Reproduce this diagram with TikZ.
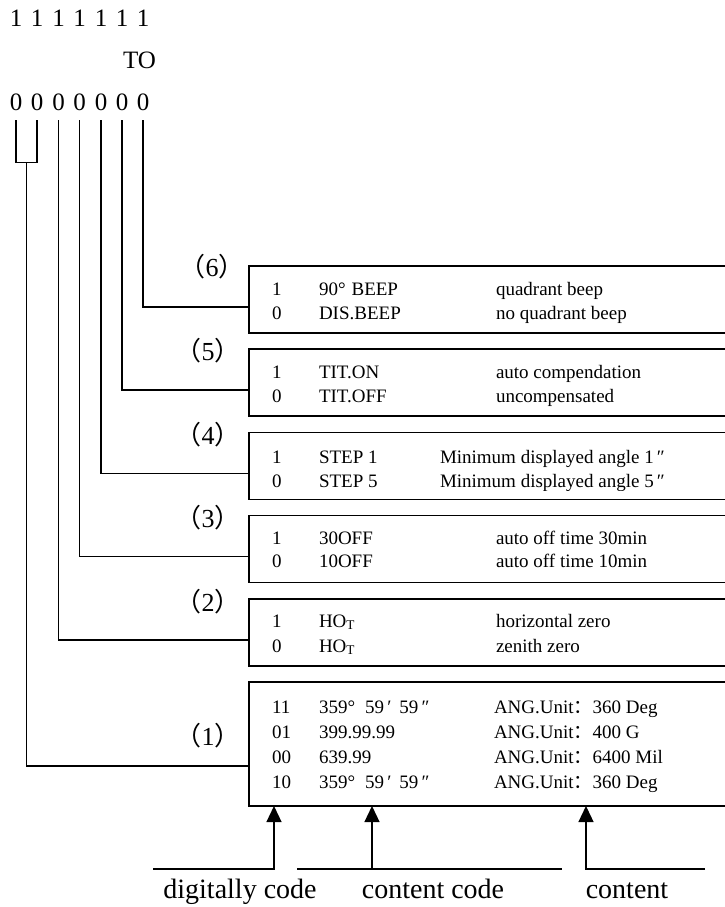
\documentclass[tikz,border=0pt]{standalone}
\usepackage{fontspec}
\setmainfont{Liberation Serif}
\newfontfamily\cjk{Noto Sans CJK SC}
\usetikzlibrary{arrows.meta,calc}
\begin{document}
\begin{tikzpicture}[x=1pt,y=-1pt,
  txt/.style={inner sep=0pt, outer sep=0pt},
  big/.style={txt, font=\fontsize{25}{25}\selectfont, anchor=base},
  lab/.style={txt, font=\fontsize{26}{26}\selectfont},
  row/.style={txt, font=\fontsize{19}{19}\selectfont, anchor=base west},
  foot/.style={txt, font=\fontsize{28}{28}\selectfont, anchor=base},
  box/.style={draw, line width=1.8pt, rectangle, minimum width=520pt, anchor=north west, inner sep=0pt, outer sep=0pt},
  conn/.style={line width=1.3pt},
  arr/.style={conn, -{Triangle[width=15pt,length=16pt]}}
]
\useasboundingbox (0,0) rectangle (725,907);
\clip (0,0) rectangle (725,907);

% top rows
\foreach \x [count=\i] in {16,37,58.5,79.5,101,122,143} {
  \node[big] (o\i) at (\x,27) {1};
  \node[big] (z\i) at (\x,110) {0};
}
\node[big] (to) at (139.5,68) {TO};

% boxes
\node[box, minimum height=67pt] (b6) at (249,266) {};
\node[box, minimum height=67pt] (b5) at (249,349) {};
\node[box, minimum height=67pt] (b4) at (249,432.5) {};
\node[box, minimum height=67pt] (b3) at (249,515.5) {};
\node[box, minimum height=67pt] (b2) at (249,599) {};
\node[box, minimum height=124pt] (b1) at (249,682) {};

% connectors from the zeros
\draw[conn] ([yshift=-10pt]z7.south) |- ([yshift=-41pt]b6.north west);
\draw[conn] ([yshift=-10pt]z6.south) |- ([yshift=-41pt]b5.north west);
\draw[conn] ([yshift=-10pt]z5.south) |- ([yshift=-41pt]b4.north west);
\draw[conn] ([yshift=-10pt]z4.south) |- ([yshift=-41pt]b3.north west);
\draw[conn] ([yshift=-10pt]z3.south) |- ([yshift=-41pt]b2.north west);
\draw[conn] ([yshift=-10pt]z1.south) -- ([yshift=-52pt]z1.south) -| ([yshift=-10pt]z2.south);
\coordinate (br) at ($(z1.south)!0.5!(z2.south)+(0,52)$);
\draw[conn] (br) |- ([yshift=-84pt]b1.north west);

% labels
\node[lab] (l6) at (212,267) {{\cjk （}6{\cjk ）}};
\node[lab] (l5) at (208,351) {{\cjk （}5{\cjk ）}};
\node[lab] (l4) at (208,435) {{\cjk （}4{\cjk ）}};
\node[lab] (l3) at (208,518) {{\cjk （}3{\cjk ）}};
\node[lab] (l2) at (208,602) {{\cjk （}2{\cjk ）}};
\node[lab] (l1) at (208,736) {{\cjk （}1{\cjk ）}};

% box 6
\node[row] (r6a) at (272,295) {1};
\node[row] (r6b) at (319,295) {90°\hspace{6pt}BEEP};
\node[row] (r6c) at (496,295) {quadrant beep};
\node[row] (r6d) at (272,319) {0};
\node[row] (r6e) at (319,319) {DIS.BEEP};
\node[row] (r6f) at (496,319) {no quadrant beep};
% box 5
\node[row] (r5a) at (272,378) {1};
\node[row] (r5b) at (319,378) {TIT.ON};
\node[row] (r5c) at (496,378) {auto compendation};
\node[row] (r5d) at (272,402) {0};
\node[row] (r5e) at (319,402) {TIT.OFF};
\node[row] (r5f) at (496,402) {uncompensated};
% box 4
\node[row] (r4a) at (272,463) {1};
\node[row] (r4b) at (319,463) {STEP 1};
\node[row] (r4c) at (440,463) {Minimum displayed angle 1\,″};
\begin{scope}
\clip (249,432.5) rectangle (725,490);
\node[row] (r4d) at (272,487) {0};
\node[row] (r4e) at (319,487) {STEP 5};
\node[row] (r4f) at (440,487) {Minimum displayed angle 5\,″};
\end{scope}
% box 3
\node[row] (r3a) at (272,544) {1};
\node[row] (r3b) at (319,544) {30OFF};
\node[row] (r3c) at (496,544) {auto off time 30min};
\node[row] (r3d) at (272,567) {0};
\node[row] (r3e) at (319,567) {10OFF};
\node[row] (r3f) at (496,567) {auto off time 10min};
% box 2
\node[row] (r2a) at (272,627) {1};
\node[row] (r2b) at (319,627) {HO\textsubscript{T}};
\node[row] (r2c) at (496,627) {horizontal zero};
\node[row] (r2d) at (272,652) {0};
\node[row] (r2e) at (319,652) {HO\textsubscript{T}};
\node[row] (r2f) at (496,652) {zenith zero};
% box 1
\node[row] (r1a) at (272,713) {11};
\node[row] (r1b) at (319,713) {359°\hspace{10pt}59\,′\hspace{8pt}59\,″};
\node[row] (r1c) at (494,713) {ANG.Unit{\cjk ：}360 Deg};
\node[row] (r1d) at (272,738) {01};
\node[row] (r1e) at (319,738) {399.99.99};
\node[row] (r1f) at (494,738) {ANG.Unit{\cjk ：}400 G};
\node[row] (r1g) at (272,763) {00};
\node[row] (r1h) at (319,763) {639.99};
\node[row] (r1i) at (494,763) {ANG.Unit{\cjk ：}6400 Mil};
\node[row] (r1j) at (272,788) {10};
\node[row] (r1k) at (319,788) {359°\hspace{10pt}59\,′\hspace{8pt}59\,″};
\node[row] (r1l) at (494,788) {ANG.Unit{\cjk ：}360 Deg};

% bottom pointers
\coordinate (h1s) at (153,869);
\coordinate (h1e) at (274,869);
\coordinate (h2s) at (297,869);
\coordinate (h2m) at (372,869);
\coordinate (h2e) at (562,869);
\coordinate (h3s) at (586,869);
\coordinate (h3e) at (705,869);
\draw[arr] (h1s) -- (h1e) -- (h1e |- b1.south);
\draw[conn] (h2s) -- (h2e);
\draw[arr] (h2m) -- (h2m |- b1.south);
\draw[arr] (h3e) -- (h3s) -- (h3s |- b1.south);

\node[foot] (f1) at (240,898) {digitally code};
\node[foot] (f2) at (433,898) {content code};
\node[foot] (f3) at (627,898) {content};
\end{tikzpicture}
\end{document}
